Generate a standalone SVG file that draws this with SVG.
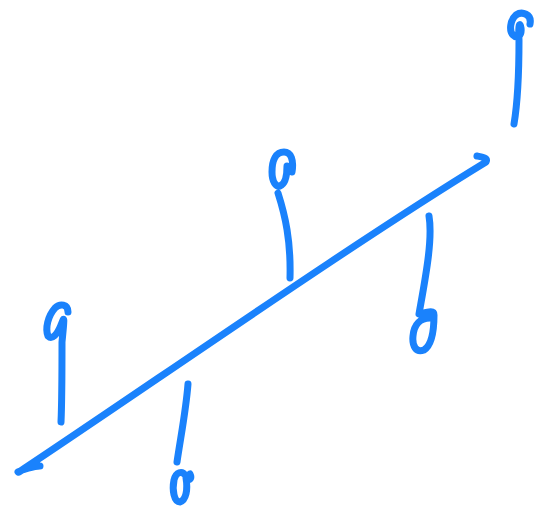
<svg xmlns="http://www.w3.org/2000/svg" width="554" height="511" viewBox="0 0 554 511">
<style>
.s{fill:none;stroke:#1a82fc;stroke-width:7;stroke-linecap:round;stroke-linejoin:round}
</style>
<rect width="554" height="511" fill="#ffffff"/>
<g id="connectors">
<path class="s" d="M18,472 C22,470 34,466 40,466 M19,472 C150,385 350,245 486,162 C488,158 482,157 477,156"/>
</g>
<g id="n1">
<path class="s" d="M530,24 C532,14 522,11 516,15 C510,20 509,31 513,35 C517,39 522,36 521,28 C520,22 518,23 519,40 C519,72 518,100 514,124"/>
</g>
<g id="n2">
<path class="s" d="M292,172 C294,160 291,152 284,152 C276,152 272,160 272,172 C272,182 276,187 280,186 C285,184 287,176 287,166 M278,193 C285,215 291,240 290,278"/>
</g>
<g id="n3">
<path class="s" d="M429,216 C433,240 425,280 419,314 C428,312 434,310 434,315 C434,330 432,345 424,350 C416,353 412,346 413,336 C414,324 421,318 430,318"/>
</g>
<g id="n4">
<path class="s" d="M68,312 C68,304 60,303 55,308 C48,316 45,328 48,336 C52,340 57,335 61,325 C64,318 65,312 62,342 C62,370 62,400 61,422"/>
</g>
<g id="n5">
<path class="s" d="M188,384 C186,410 181,435 177,462 M186,476 C182,470 176,472 174,480 C172,490 174,502 180,502 C186,500 188,490 186,478 C190,482 192,478 190,474"/>
</g>
</svg>
